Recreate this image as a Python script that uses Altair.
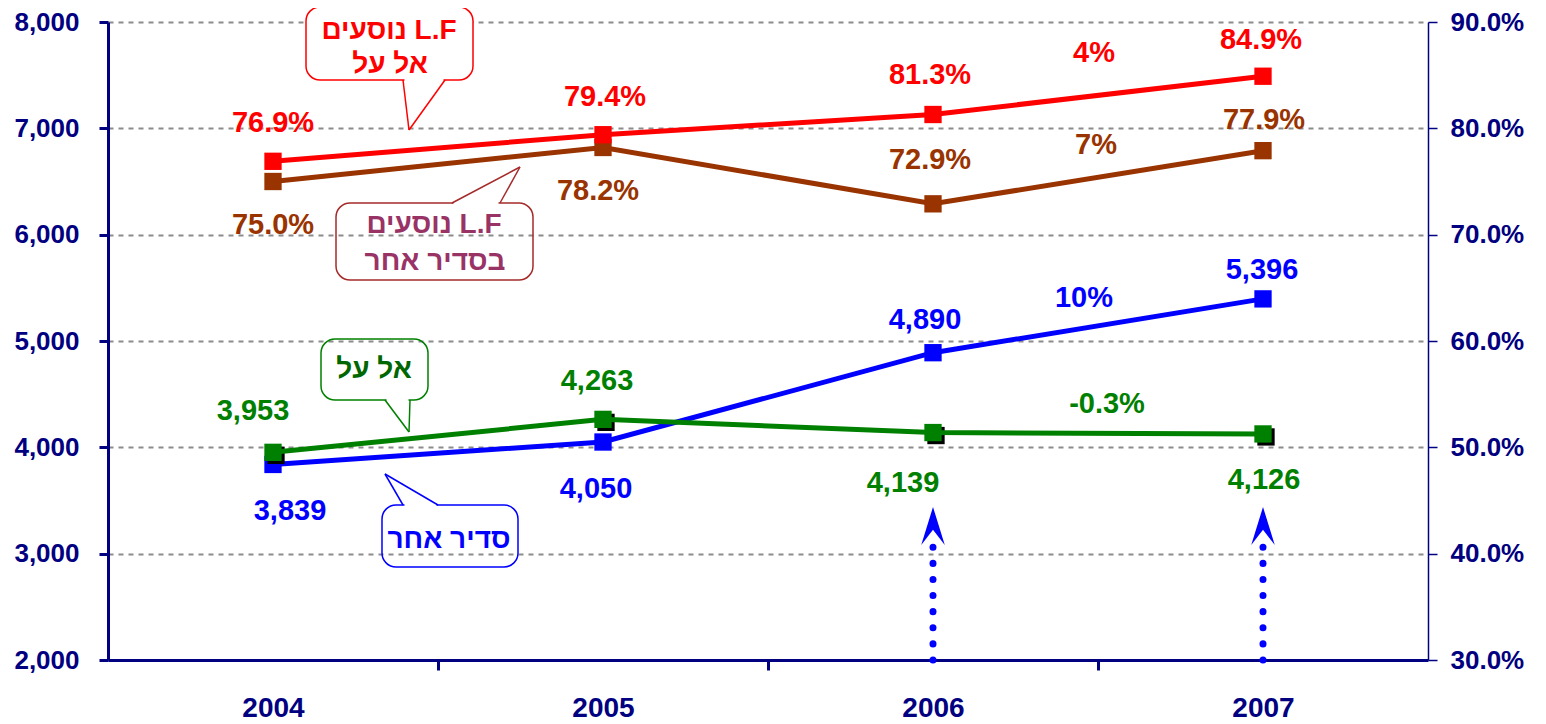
import altair as alt
import pandas as pd

# ---------------- data ----------------
years = [2004, 2005, 2006, 2007]
elal_flights = [3953, 4263, 4139, 4126]      # green, left axis
other_flights = [3839, 4050, 4890, 5396]     # blue, left axis
elal_lf = [76.9, 79.4, 81.3, 84.9]           # red, right axis (%)
other_lf = [75.0, 78.2, 72.9, 77.9]          # brown, right axis (%)
growth_elal_lf = "4%"
growth_other_lf = "7%"
growth_other_flights = "10%"
growth_elal_flights = "-0.3%"
left_ticks = [2000, 3000, 4000, 5000, 6000, 7000, 8000]
right_ticks = [0.3, 0.4, 0.5, 0.6, 0.7, 0.8, 0.9]

# ---------------- styles ----------------
NAVY = "#000080"
RED = "#FF0000"
BROWN = "#993300"
GREEN = "#008000"
BLUE = "#0000FF"
FONT = "Liberation Sans"
LABEL_SIZE = 29

# label offsets (dx, dy) per point
off_red = [(0, -38), (2, -38), (-3, -40), (-2, -36)]
off_brown = [(0, 43), (-5, 44), (-3, -44), (1, -31)]
off_green = [(-20, -41), (-6, -38), (-30, 50), (1, 46)]
off_blue = [(17, 47), (-7, 47), (-8, -33), (-1, -29)]

x_enc = alt.X(
    "year:Q",
    scale=alt.Scale(domain=[2003.5, 2007.5], nice=False, zero=False),
    axis=alt.Axis(
        values=[2004, 2004.5, 2005, 2005.5, 2006, 2006.5, 2007],
        labelExpr="datum.value % 1 === 0 ? format(datum.value, 'd') : ''",
        tickOpacity={"condition": {"test": "datum.value % 1 === 0", "value": 0}, "value": 1},
        grid=False,
        domainColor=NAVY, domainWidth=3,
        tickColor=NAVY, tickWidth=3, tickSize=10,
        labelFont=FONT, labelFontSize=28, labelFontWeight="bold", labelColor=NAVY,
        labelPadding=24, title=None,
    ),
)

y_left = alt.Y(
    "value:Q",
    scale=alt.Scale(domain=[2000, 8000], nice=False, zero=False),
    axis=alt.Axis(
        values=left_ticks, format=",d", grid=True,
        gridDash=[5, 5], gridColor="#8c8c8c", gridWidth=2,
        domainColor=NAVY, domainWidth=3,
        tickColor=NAVY, tickWidth=3, tickSize=9,
        labelFont=FONT, labelFontSize=26, labelFontWeight="bold", labelColor=NAVY,
        labelPadding=20, title=None,
    ),
)

y_right = alt.Y(
    "value:Q",
    scale=alt.Scale(domain=[0.3, 0.9], nice=False, zero=False),
    axis=alt.Axis(
        values=right_ticks, format=".1%", grid=False, orient="right",
        domainColor=NAVY, domainWidth=1.5,
        tickColor=NAVY, tickWidth=1.5, tickSize=9,
        labelFont=FONT, labelFontSize=26, labelFontWeight="bold", labelColor=NAVY,
        labelPadding=13, title=None,
    ),
)


def series(values, labels, color, yenc, offsets, growth, growth_off, shadow=False):
    df = pd.DataFrame({"year": years, "value": values, "label": labels})
    base = alt.Chart(df)
    layers = []
    if shadow:
        layers.append(base.mark_square(size=300, color="black", opacity=1, filled=True,
                                       xOffset=3, yOffset=3).encode(x=x_enc, y=yenc))
    layers.append(base.mark_line(color=color, strokeWidth=5).encode(x=x_enc, y=yenc))
    layers.append(base.mark_square(size=300, color=color, opacity=1, filled=True).encode(x=x_enc, y=yenc))
    for yr, (dx, dy) in zip(years, offsets):
        layers.append(
            base.transform_filter(alt.datum.year == yr)
            .mark_text(dx=dx, dy=dy, font=FONT, fontSize=LABEL_SIZE, fontWeight="bold",
                       color=color, baseline="middle", align="center")
            .encode(x=x_enc, y=yenc, text="label:N")
        )
    gdf = pd.DataFrame({"year": [(years[2] + years[3]) / 2],
                        "value": [(values[2] + values[3]) / 2],
                        "label": [growth]})
    layers.append(
        alt.Chart(gdf).mark_text(dx=growth_off[0], dy=growth_off[1], font=FONT, fontSize=LABEL_SIZE,
                                 fontWeight="bold", color=color, baseline="middle", align="center")
        .encode(x=x_enc, y=yenc, text="label:N")
    )
    return layers


dummy = pd.DataFrame({"a": [0]})


def bubble(rect, base_pts, tip, lines, stroke, text_color, filled):
    x1, x2, y1, y2 = rect
    out = []
    out.append(
        alt.Chart(dummy).mark_rect(cornerRadius=14, fill="white", fillOpacity=1 if filled else 0,
                                   stroke=stroke, strokeWidth=1.5)
        .encode(x=alt.value(x1), x2=alt.value(x2), y=alt.value(y1), y2=alt.value(y2))
    )
    (bx1, by), (bx2, _) = base_pts
    out.append(
        alt.Chart(dummy).mark_rule(color="white", strokeWidth=3)
        .encode(x=alt.value(bx1 + 1.5), x2=alt.value(bx2 - 1.5), y=alt.value(by))
    )
    for bx in (bx1, bx2):
        out.append(
            alt.Chart(dummy).mark_rule(color=stroke, strokeWidth=1.5)
            .encode(x=alt.value(bx), y=alt.value(by), x2=alt.value(tip[0]), y2=alt.value(tip[1]))
        )
    for txt, tx, ty in lines:
        out.append(
            alt.Chart(dummy).mark_text(text=txt, font=FONT, fontSize=28, fontWeight="bold",
                                       color=text_color, baseline="middle", align="center")
            .encode(x=alt.value(tx), y=alt.value(ty))
        )
    return out


green_layers = series(elal_flights, [f"{v:,}" for v in elal_flights], GREEN, y_left,
                      off_green, growth_elal_flights, (9, -29), shadow=True)
blue_layers = series(other_flights, [f"{v:,}" for v in other_flights], BLUE, y_left,
                     off_blue, growth_other_flights, (-14, -28))

# dotted arrows at 2006 and 2007
arrow_df = pd.DataFrame({"year": [2006, 2007]})
arrow_rule = alt.Chart(arrow_df).mark_rule(color=BLUE, strokeWidth=7, strokeDash=[0.1, 16],
                                           strokeCap="round").encode(
    x=x_enc, y=alt.value(638), y2=alt.value(522))
arrow_head = alt.Chart(arrow_df).mark_point(
    shape="M 0 -1 L 0.62 1 L 0 0.2 L -0.62 1 Z", size=1444, filled=True, color=BLUE,
    opacity=1, strokeWidth=0).encode(x=x_enc, y=alt.value(504))

callouts = []
callouts += bubble((198, 365, -15, 58), ((295, 58), (337, 58)), (301, 108),
                   [("נוסעים L.F", 281, 9), ("אל על", 282, 43)], RED, RED, True)
callouts += bubble((228, 425, 181, 258), ((344, 181), (392, 181)), (412, 145),
                   [("נוסעים L.F", 326, 203), ("בסדיר אחר", 327, 240)], "#A52A2A", "#993366", False)
callouts += bubble((213, 320, 317, 378), ((277, 378), (302, 378)), (301, 410),
                   [("אל על", 266, 348)], GREEN, "#006600", False)
callouts += bubble((274, 410, 483, 545), ((295, 483), (330, 483)), (277, 452),
                   [("סדיר אחר", 341, 518)], BLUE, BLUE, False)

left = alt.layer(*blue_layers, *green_layers, arrow_rule, arrow_head, *callouts)

pct = lambda vals: [v / 100 for v in vals]
brown_layers = series(pct(other_lf), [f"{v:.1f}%" for v in other_lf], BROWN, y_right,
                      off_brown, growth_other_lf, (-2, -32))
red_layers = series(pct(elal_lf), [f"{v:.1f}%" for v in elal_lf], RED, y_right,
                    off_red, growth_elal_lf, (-4, -42))
right = alt.layer(*brown_layers, *red_layers)

chart = (
    alt.layer(left, right)
    .resolve_scale(y="independent")
    .properties(
        width=1320, height=638,
        autosize=alt.AutoSizeParams(type="none"),
        padding={"left": 100, "top": 14, "right": 110, "bottom": 62},
        background="white",
    )
    .configure_view(strokeWidth=0)
)

chart.save("out.html", embed_options={"renderer": "svg", "actions": False})
